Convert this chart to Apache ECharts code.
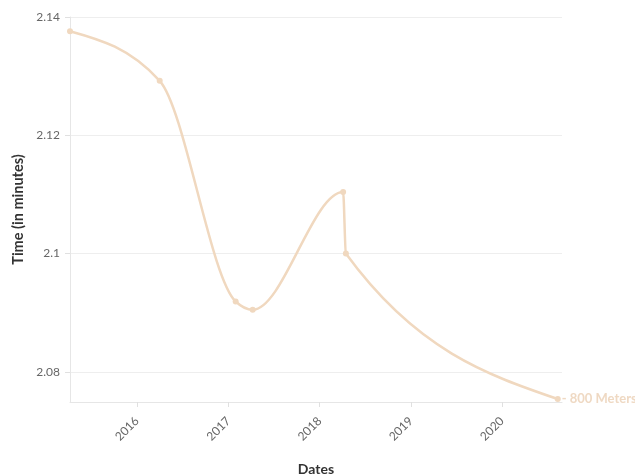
<!DOCTYPE html>
<html>
<head>
<meta charset="utf-8">
<script src="https://cdn.jsdelivr.net/npm/echarts@6/dist/echarts.min.js"></script>
<style>
html,body{margin:0;padding:0;background:#fff;}
#chart{width:635px;height:476px;}
</style>
</head>
<body>
<div id="chart"></div>
<script>
const dates = ['2015-04-08', '2016-04-01', '2017-01-30', '2017-04-08', '2018-04-05', '2018-04-16', '2020-08-11'];
const times = [2.1376, 2.1292, 2.0919, 2.0905, 2.1104, 2.1000, 2.0754];
const seriesName = '800 Meters';
const xMin = '2015-04-08';
const xMax = '2020-08-28';
const yMin = 2.0749;
const yMax = 2.14;

const lineColor = '#f0d8bf';
const fontFamily = 'Lato';

// monotone-x cubic path (same scheme as d3.curveMonotoneX), built from pixel coords given by the axes
function monotonePath(pts) {
  const n = pts.length;
  const sign = v => (v < 0 ? -1 : 1);
  const t = new Array(n).fill(0);
  for (let i = 1; i < n - 1; i++) {
    const h0 = pts[i][0] - pts[i - 1][0], h1 = pts[i + 1][0] - pts[i][0];
    const s0 = (pts[i][1] - pts[i - 1][1]) / (h0 || (h1 < 0 && -0));
    const s1 = (pts[i + 1][1] - pts[i][1]) / (h1 || (h0 < 0 && -0));
    const p = (s0 * h1 + s1 * h0) / (h0 + h1);
    t[i] = (sign(s0) + sign(s1)) * Math.min(Math.abs(s0), Math.abs(s1), 0.5 * Math.abs(p)) || 0;
  }
  const slope2 = (a, b, tt) => {
    const h = b[0] - a[0];
    return h ? (3 * (b[1] - a[1]) / h - tt) / 2 : tt;
  };
  t[0] = slope2(pts[0], pts[1], t[1]);
  t[n - 1] = slope2(pts[n - 2], pts[n - 1], t[n - 2]);
  let d = 'M' + pts[0][0] + ',' + pts[0][1];
  for (let i = 0; i < n - 1; i++) {
    const dx = (pts[i + 1][0] - pts[i][0]) / 3;
    d += 'C' + (pts[i][0] + dx) + ',' + (pts[i][1] + dx * t[i]) + ',' +
      (pts[i + 1][0] - dx) + ',' + (pts[i + 1][1] - dx * t[i + 1]) + ',' +
      pts[i + 1][0] + ',' + pts[i + 1][1];
  }
  return d;
}

const seriesData = dates.map((d, i) => [+new Date(d), times[i]]);

const chart = echarts.init(document.getElementById('chart'), null, {renderer: 'canvas'});
chart.setOption({
  animation: false,
  textStyle: {fontFamily: fontFamily},
  grid: {left: 70, right: 73, top: 17, bottom: 74, containLabel: false, outerBoundsMode: 'none'},
  xAxis: {
    type: 'time',
    min: +new Date(xMin),
    max: +new Date(xMax),
    minInterval: 365 * 24 * 3600 * 1000,
    splitNumber: 5,
    name: 'Dates',
    nameLocation: 'middle',
    nameGap: 60,
    nameTextStyle: {fontFamily: fontFamily, fontWeight: 'bold', fontSize: 14, color: '#333'},
    axisLine: {show: true, lineStyle: {color: '#e6e6e6', width: 1}},
    axisTick: {show: true, length: 5, lineStyle: {color: '#e0e0e0'}},
    splitLine: {show: false},
    axisLabel: {
      rotate: 45,
      margin: 17,
      fontSize: 12,
      color: '#666',
      fontFamily: fontFamily,
      showMinLabel: false,
      showMaxLabel: false,
      formatter: function (v) { return String(new Date(v).getFullYear()); }
    }
  },
  yAxis: {
    type: 'value',
    min: yMin,
    max: yMax,
    splitNumber: 3,
    name: 'Time (in minutes)',
    nameLocation: 'middle',
    nameGap: 44,
    nameRotate: 90,
    nameTextStyle: {fontFamily: fontFamily, fontWeight: 'bold', fontSize: 14.5, color: '#333'},
    axisLine: {show: true, lineStyle: {color: '#e6e6e6', width: 1}},
    axisTick: {show: true, length: 5, lineStyle: {color: '#e0e0e0'}},
    splitLine: {show: true, lineStyle: {color: '#eeeeee', width: 1}},
    axisLabel: {
      margin: 10,
      fontSize: 12,
      color: '#666',
      fontFamily: fontFamily,
      showMinLabel: false,
      formatter: function (v) { return String(parseFloat(v.toFixed(4))); }
    }
  },
  series: [{
    type: 'custom',
    coordinateSystem: 'cartesian2d',
    data: seriesData,
    silent: true,
    z: 2,
    renderItem: function (params, api) {
      if (params.dataIndex !== 0) return null;
      const pts = seriesData.map(p => api.coord(p));
      return {
        type: 'path',
        shape: {pathData: monotonePath(pts)},
        style: {fill: null, stroke: lineColor, lineWidth: 2.5}
      };
    }
  }, {
    name: seriesName,
    type: 'line',
    data: seriesData,
    z: 3,
    symbol: 'circle',
    symbolSize: 6,
    showSymbol: true,
    lineStyle: {color: lineColor, width: 0, opacity: 0},
    itemStyle: {color: lineColor},
    endLabel: {
      show: true,
      formatter: '- ' + seriesName,
      color: '#efd9c3',
      fontFamily: fontFamily,
      fontWeight: 'bold',
      fontSize: 13,
      distance: 4
    }
  }]
});
</script>
</body>
</html>
